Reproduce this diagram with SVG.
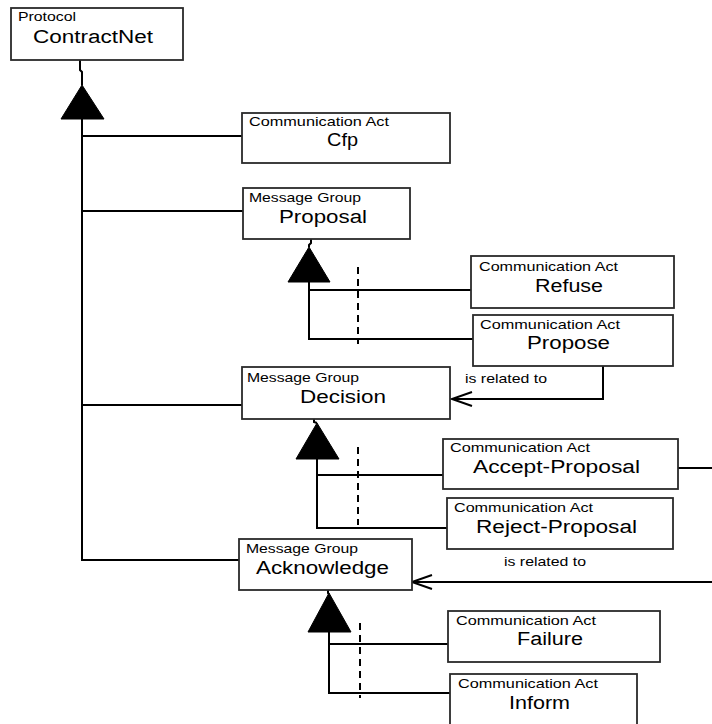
<svg xmlns="http://www.w3.org/2000/svg" width="712" height="724" viewBox="0 0 712 724">
<style>
.box{fill:#fff;stroke:#2a2a2a;stroke-width:1.8}
.sm{font-family:"Liberation Sans",Arial,sans-serif;font-size:13px;fill:#000}
.lg{font-family:"Liberation Sans",Arial,sans-serif;font-size:18px;fill:#000}
.rel{font-family:"Liberation Sans",Arial,sans-serif;font-size:13px;fill:#000}
.ln{fill:none;stroke:#000;stroke-width:2}
.dash{fill:none;stroke:#000;stroke-width:2;stroke-dasharray:7,5}
.tri{fill:#000;stroke:#000;stroke-width:1}
</style>
<rect width="712" height="724" fill="#fff"/>
<g id="connectors">
  <path class="ln" d="M80 60 V70 L82 72 V85"/>
  <polygon class="tri" points="82,85 61,119 104,119"/>
  <path class="ln" d="M82 119 V561"/>
  <path class="ln" d="M82 136 H242"/>
  <path class="ln" d="M82 211 H243"/>
  <path class="ln" d="M82 405 H242"/>
  <path class="ln" d="M82 560 H239"/>
  <path class="ln" d="M311 239 V243 L309 245 V247"/>
  <polygon class="tri" points="309,247 288,282 330,282"/>
  <path class="ln" d="M309 282 V340"/>
  <path class="ln" d="M309 290 H471"/>
  <path class="ln" d="M309 339 H473"/>
  <path class="dash" d="M358 267 V344"/>
  <path class="ln" d="M603 366 V399 H452"/>
  <path class="ln" d="M472 392 L452 399 L472 406"/>
  <text class="rel" x="465" y="383" textLength="82" lengthAdjust="spacingAndGlyphs">is related to</text>
  <path class="ln" d="M314 419 V422 L317 423"/>
  <polygon class="tri" points="317,423 296,459 339,459"/>
  <path class="ln" d="M317 459 V529"/>
  <path class="ln" d="M317 475 H443"/>
  <path class="ln" d="M317 528 H447"/>
  <path class="dash" d="M358 447 V525"/>
  <path class="ln" d="M678 468 H712"/>
  <path class="ln" d="M712 582 H412"/>
  <path class="ln" d="M432 575 L412 582 L432 589"/>
  <text class="rel" x="504" y="566" textLength="82" lengthAdjust="spacingAndGlyphs">is related to</text>
  <path class="ln" d="M328 590 V593 L329 594"/>
  <polygon class="tri" points="329,593 308,632 351,632"/>
  <path class="ln" d="M329 632 V694"/>
  <path class="ln" d="M329 644 H448"/>
  <path class="ln" d="M329 693 H450"/>
  <path class="dash" d="M360 623 V698"/>
</g>
<g id="contractnet">
  <rect class="box" x="11" y="8" width="172" height="52"/>
  <text class="sm" x="18" y="21" textLength="58" lengthAdjust="spacingAndGlyphs">Protocol</text>
  <text class="lg" x="33" y="43" textLength="120" lengthAdjust="spacingAndGlyphs">ContractNet</text>
</g>
<g id="cfp">
  <rect class="box" x="242" y="113" width="208" height="50"/>
  <text class="sm" x="249" y="126" textLength="140" lengthAdjust="spacingAndGlyphs">Communication Act</text>
  <text class="lg" x="327" y="146" textLength="31" lengthAdjust="spacingAndGlyphs">Cfp</text>
</g>
<g id="proposal">
  <rect class="box" x="243" y="188" width="167" height="51"/>
  <text class="sm" x="249" y="202" textLength="112" lengthAdjust="spacingAndGlyphs">Message Group</text>
  <text class="lg" x="279" y="223" textLength="88" lengthAdjust="spacingAndGlyphs">Proposal</text>
</g>
<g id="refuse">
  <rect class="box" x="471" y="256" width="203" height="52"/>
  <text class="sm" x="479" y="271" textLength="139" lengthAdjust="spacingAndGlyphs">Communication Act</text>
  <text class="lg" x="535" y="292" textLength="68" lengthAdjust="spacingAndGlyphs">Refuse</text>
</g>
<g id="propose">
  <rect class="box" x="473" y="315" width="200" height="51"/>
  <text class="sm" x="480" y="329" textLength="140" lengthAdjust="spacingAndGlyphs">Communication Act</text>
  <text class="lg" x="527" y="349" textLength="83" lengthAdjust="spacingAndGlyphs">Propose</text>
</g>
<g id="decision">
  <rect class="box" x="242" y="367" width="208" height="52"/>
  <text class="sm" x="247" y="382" textLength="112" lengthAdjust="spacingAndGlyphs">Message Group</text>
  <text class="lg" x="300" y="403" textLength="86" lengthAdjust="spacingAndGlyphs">Decision</text>
</g>
<g id="accept-proposal">
  <rect class="box" x="443" y="439" width="235" height="50"/>
  <text class="sm" x="450" y="452" textLength="140" lengthAdjust="spacingAndGlyphs">Communication Act</text>
  <text class="lg" x="473" y="473" textLength="167" lengthAdjust="spacingAndGlyphs">Accept-Proposal</text>
</g>
<g id="reject-proposal">
  <rect class="box" x="447" y="498" width="226" height="51"/>
  <text class="sm" x="454" y="512" textLength="139" lengthAdjust="spacingAndGlyphs">Communication Act</text>
  <text class="lg" x="476" y="533" textLength="161" lengthAdjust="spacingAndGlyphs">Reject-Proposal</text>
</g>
<g id="acknowledge">
  <rect class="box" x="239" y="539" width="173" height="51"/>
  <text class="sm" x="246" y="553" textLength="112" lengthAdjust="spacingAndGlyphs">Message Group</text>
  <text class="lg" x="256" y="574" textLength="133" lengthAdjust="spacingAndGlyphs">Acknowledge</text>
</g>
<g id="failure">
  <rect class="box" x="448" y="611" width="212" height="51"/>
  <text class="sm" x="456" y="625" textLength="140" lengthAdjust="spacingAndGlyphs">Communication Act</text>
  <text class="lg" x="517" y="645" textLength="66" lengthAdjust="spacingAndGlyphs">Failure</text>
</g>
<g id="inform">
  <rect class="box" x="450" y="674" width="187" height="60"/>
  <text class="sm" x="458" y="688" textLength="140" lengthAdjust="spacingAndGlyphs">Communication Act</text>
  <text class="lg" x="509" y="709" textLength="61" lengthAdjust="spacingAndGlyphs">Inform</text>
</g>
</svg>
